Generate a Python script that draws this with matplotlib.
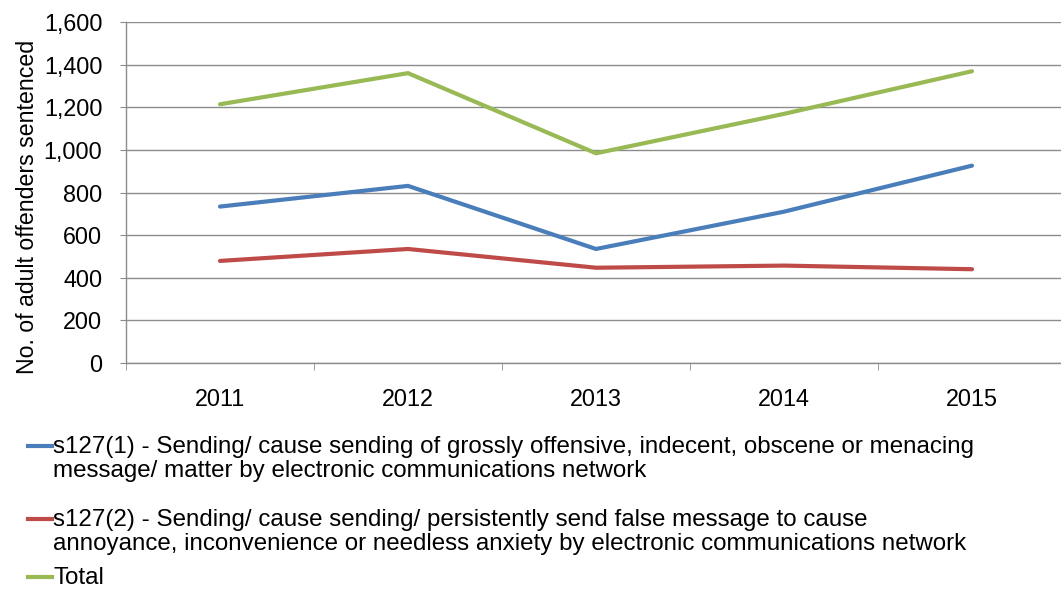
import matplotlib
matplotlib.use('Agg')
import matplotlib.pyplot as plt
from matplotlib.lines import Line2D
from matplotlib.ticker import FuncFormatter

years = ['2011', '2012', '2013', '2014', '2015']
s127_1 = [734, 831, 535, 710, 926]
s127_2 = [479, 535, 447, 457, 440]
total = [1214, 1360, 984, 1169, 1369]

labels = [
    's127(1) - Sending/ cause sending of grossly offensive, indecent, obscene or menacing\n'
    'message/ matter by electronic communications network',
    's127(2) - Sending/ cause sending/ persistently send false message to cause\n'
    'annoyance, inconvenience or needless anxiety by electronic communications network',
    'Total',
]
colors = ['#4a7ebb', '#be4b48', '#98b954']

plt.rcParams['font.family'] = ['Liberation Sans', 'DejaVu Sans']

fig = plt.figure(figsize=(10.61, 5.9), dpi=100)
ax = fig.add_axes([126 / 1061, 1 - 363 / 590, 940 / 1061, 341 / 590])

x = list(range(len(years)))
for vals, c in zip([s127_1, s127_2, total], colors):
    ax.plot(x, vals, color=c, linewidth=3, solid_capstyle='round', solid_joinstyle='miter')

ax.set_xlim(-0.5, len(years) - 0.5)
ax.set_ylim(0, 1600)
ax.set_yticks(range(0, 1601, 200))
ax.yaxis.set_major_formatter(FuncFormatter(lambda v, p: f'{int(v):,}'))
ax.grid(axis='y', color='#8c8c8c', linewidth=1)
ax.set_axisbelow(True)

ax.set_xticks(x)
ax.set_xticklabels(years)
ax.set_xticks([i - 0.5 for i in range(len(years) + 1)], minor=True)
ax.tick_params(axis='x', which='major', length=0, pad=18, labelsize=16.8)
ax.tick_params(axis='x', which='minor', length=5, color='#8c8c8c', direction='out')
ax.tick_params(axis='y', length=4.5, color='#8c8c8c', pad=12.5, labelsize=16.8)

for s in ['top', 'right']:
    ax.spines[s].set_visible(False)
for s in ['left', 'bottom']:
    ax.spines[s].set_color('#8c8c8c')
    ax.spines[s].set_linewidth(1)

ax.set_ylabel('No. of adult offenders sentenced', fontsize=16.7)
ax.yaxis.set_label_coords(-0.093, 0.457)

# legend drawn by hand so the swatch sits by the first line of each entry
rows = [446, 519, 577]
for lab, c, yy in zip(labels, colors, rows):
    yf = 1 - yy / 590
    fig.add_artist(Line2D([28 / 1061, 52 / 1061], [yf, yf], color=c, linewidth=3,
                          transform=fig.transFigure))
    fig.text(53 / 1061, yf + 10 / 590, lab, fontsize=17.4, va='top', ha='left',
             linespacing=1.1)

fig.savefig('out.png', dpi=100)
